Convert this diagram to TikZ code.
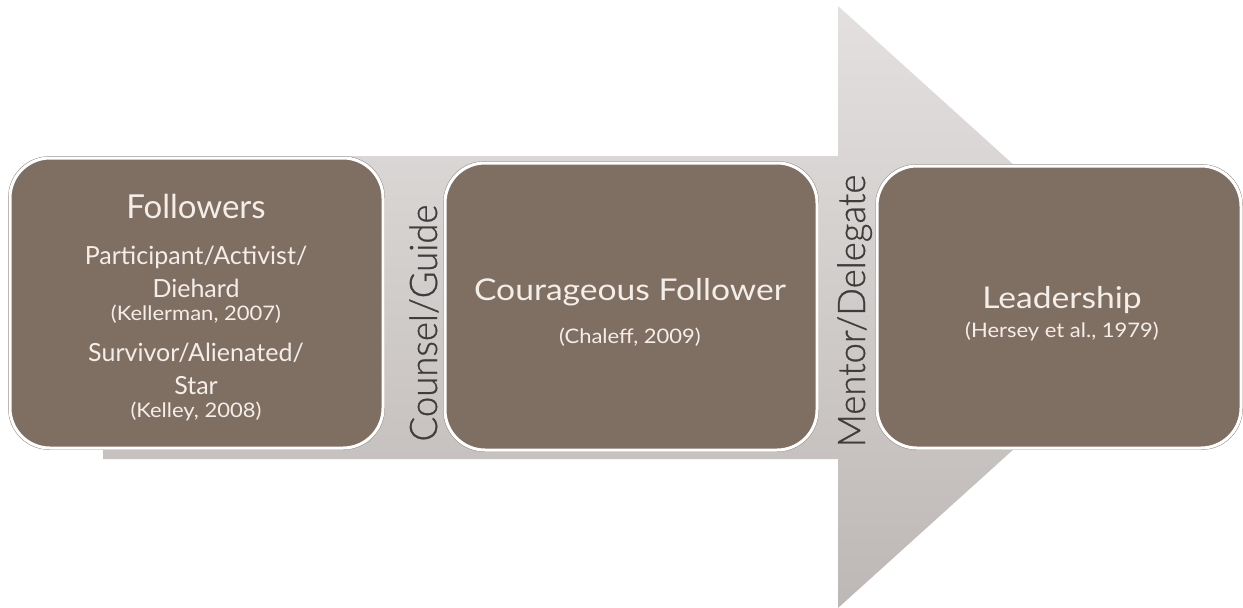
\documentclass[tikz,border=0pt]{standalone}
\usepackage{fontspec}
\setmainfont{Lato}
\newfontfamily\titlefont[FakeStretch=1.12]{Lato}
\newfontfamily\reffont[FakeStretch=1.1]{Lato}
\newfontfamily\lightfont[FakeStretch=0.96,FakeBold=0.7]{Lato Light}
\definecolor{boxfill}{HTML}{7F6F63}
\definecolor{boxtext}{HTML}{F4EEE8}
\definecolor{arrtop}{HTML}{E3E0DF}
\definecolor{arrbot}{HTML}{BDB8B6}
\definecolor{labelgray}{HTML}{3F3C3B}
\definecolor{edgegray}{HTML}{9A918B}
\tikzset{
  stagebox/.style={rounded corners=40pt, fill=boxfill, draw=white, line width=3pt},
  stageedge/.style={rounded corners=41pt, draw=edgegray, line width=0.8pt},
  boxlabel/.style={text=boxtext, inner sep=0pt, anchor=base},
  titletext/.style={boxlabel, font=\titlefont\fontsize{30}{34}\selectfont},
  bodytext/.style={boxlabel, font=\fontsize{25}{30}\selectfont},
  reftext/.style={boxlabel, font=\reffont\fontsize{20}{24}\selectfont},
  vlabel/.style={text=labelgray, rotate=90, inner sep=0pt, anchor=base, font=\lightfont\fontsize{38}{40}\selectfont}
}
\begin{document}
\begin{tikzpicture}[x=1pt,y=-1pt]
\useasboundingbox (0,0) rectangle (1243,608);
% big arrow
\shade[top color=arrtop, bottom color=arrbot]
  (103,156) -- (838,156) -- (838,6) -- (1171,307) -- (838,608) -- (838,459) -- (103,459) -- cycle;
% boxes
\draw[stageedge] (8.5,156.5) rectangle (384.5,449.5);
\path[stagebox] (10,158) rectangle (383,448);
\draw[stageedge] (443.5,161.5) rectangle (818.5,451.5);
\path[stagebox] (445,163) rectangle (817,450);
\draw[stageedge] (875.5,164.5) rectangle (1242.5,449.5);
\path[stagebox] (877,166) rectangle (1241,448);
% texts box 1
\node[boxlabel, font=\fontsize{33}{36}\selectfont] (f1) at (196,218) {Followers};
\node[bodytext] (f2) at (196,264) {Participant/Activist/};
\node[bodytext] (f3) at (196,297) {Diehard};
\node[reftext] (f4) at (196,320) {(Kellerman, 2007)};
\node[bodytext] (f5) at (196,361) {Survivor/Alienated/};
\node[bodytext] (f6) at (196,394) {Star};
\node[reftext] (f7) at (196,417) {(Kelley, 2008)};
% box 2
\node[titletext] (c1) at (630,300) {Courageous Follower};
\node[reftext] (c2) at (630,343) {(Chaleff, 2009)};
% box 3
\node[titletext] (l1) at (1062,308) {Leadership};
\node[reftext] (l2) at (1062,337) {(Hersey et al., 1979)};
% vertical labels
\node[vlabel] (cg) at (437,323) {Counsel/Guide};
\node[vlabel] (md) at (865,311) {Mentor/Delegate};
\end{tikzpicture}
\end{document}
